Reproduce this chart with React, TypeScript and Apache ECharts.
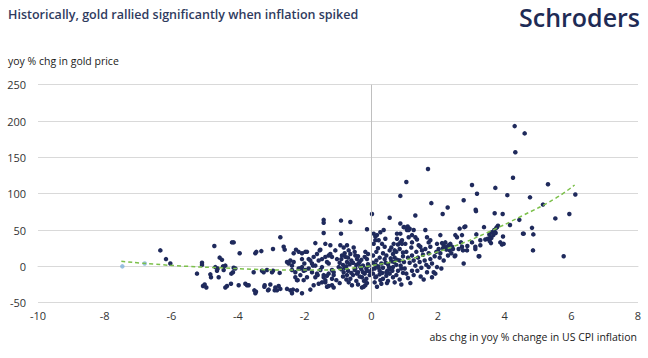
import React, { useEffect, useRef } from "react";
import * as echarts from "echarts";

const TITLE = "Historically, gold rallied significantly when inflation spiked";
const LOGO = "Schroders";
const Y_TITLE = "yoy % chg in gold price";
const X_TITLE = "abs chg in yoy % change in US CPI inflation";

const X_MIN = -10;
const X_MAX = 8;
const X_STEP = 2;
const Y_MIN = -50;
const Y_MAX = 250;
const Y_STEP = 50;

// scatter: [abs chg in yoy CPI inflation, yoy % chg in gold price]
const farLeft: number[][] = [
  [-6.33, 22], [-6.16, 10], [-6.03, 4], [-5.23, -10], [-5.08, 5], [-5.08, 2], [-5.05, -27], [-4.95, -29], [-5.0, -25],
];
const leftPts: number[][] = [
  [-4.83, -11], [-4.81, -15], [-4.58, -15], [-4.71, 28], [-4.63, -6], [-4.55, 12], [-4.48, 9], [-4.45, 0], [-4.43, -5],
  [-4.68, -1], [-4.61, -3], [-4.38, -29], [-4.33, -27], [-4.18, 33], [-4.13, 33], [-4.21, -24], [-4.13, -2], [-4.08, -3],
  [-4.15, -8], [-4.2, -10], [-4.38, 1], [-3.95, 18], [-3.98, -26], [-3.78, -24], [-3.73, -26], [-3.68, -26], [-3.53, -8],
  [-3.48, 18], [-3.45, 20], [-3.3, 21], [-3.51, -33], [-3.48, -37], [-3.46, -35], [-3.28, -6], [-3.23, -8], [-3.2, -26],
  [-3.21, -28], [-3.1, -33], [-3.08, -32], [-3.03, -25], [-3.13, -5],
];
const midLeftPts: number[][] = [
  [-2.98, -8], [-2.95, 24], [-2.95, -6], [-2.9, -33], [-2.88, -29], [-2.83, -33], [-2.78, -27], [-2.73, -31], [-2.73, 40],
  [-2.75, -9], [-2.63, 27], [-2.6, 23], [-2.53, 6], [-2.48, 4], [-2.43, 8], [-2.38, 1], [-2.33, 6], [-2.53, -31],
  [-2.43, -33], [-2.38, -37], [-2.35, -32], [-2.23, -33], [-2.33, 18], [-2.26, 23], [-2.18, 20], [-2.08, 18], [-1.98, 20],
  [-1.93, 20], [-2.38, -5], [-2.28, -8], [-2.18, -3], [-2.08, -1], [-1.98, -5], [-1.88, -3], [-2.28, -15], [-2.23, -19],
  [-2.13, -12], [-2.03, -19], [-1.93, -15], [-2.08, -37], [-2.21, -19], [-2.08, 10], [-2.01, 4], [-2.13, -3], [-2.03, -6],
];
const nearLeftPts: number[][] = [
  [-1.83, -32], [-1.83, 8], [-1.73, 13], [-1.63, 17], [-1.78, 4], [-1.68, 1], [-1.58, 8], [-1.48, 10], [-1.38, 13],
  [-1.33, 6], [-1.28, 15], [-1.18, 13], [-1.68, 32], [-1.43, 64], [-1.43, 60], [-1.43, 46], [-1.53, 23], [-1.38, 31],
  [-1.23, 29], [-1.78, -8], [-1.68, -15], [-1.63, -10], [-1.53, -5], [-1.43, -12], [-1.38, -19], [-1.28, -10],
  [-1.18, -17], [-1.13, -8], [-1.58, -24], [-1.48, -22], [-1.33, -28], [-1.18, -26], [-1.73, -26], [-1.88, 10],
  [-1.75, 1], [-1.61, -12], [-1.55, 22], [-1.48, -1], [-1.43, -15], [-1.38, -22], [-1.33, -13], [-1.28, 4], [-1.23, 17],
  [-1.28, -27], [-1.13, -29], [-1.18, -5], [-1.13, -12], [-1.05, -19], [-1.08, 22], [-1.03, 10],
];
const negCorePts: number[][] = [
  [-0.98, -1], [-0.91, 63], [-0.91, 45], [-0.93, 29], [-0.83, 26], [-0.73, 29], [-0.68, 22], [-0.88, 15], [-0.78, 13],
  [-0.73, 6], [-0.63, 17], [-0.83, -8], [-0.73, -12], [-0.63, -17], [-0.68, -22], [-0.58, -26], [-0.63, 61], [-0.53, 26],
  [-0.48, 15], [-0.43, 10], [-0.38, 4], [-0.48, -3], [-0.43, -10], [-0.33, -1], [-0.28, -15], [-0.28, -29], [-0.18, -26],
  [-0.13, 51], [-0.18, 20], [-0.13, 10], [-0.08, 1], [-0.13, -6], [-0.95, 5], [-0.9, -4], [-0.85, 2], [-0.8, -2],
  [-0.75, 0], [-0.7, -6], [-0.65, 3], [-0.6, -9], [-0.55, 5], [-0.5, -5], [-0.45, 2], [-0.4, -8], [-0.35, 6], [-0.3, -4],
  [-0.25, 1], [-0.2, -10], [-0.15, -3], [-0.1, 3], [-0.05, -7], [-0.9, 10], [-0.8, 18], [-0.7, 12], [-0.6, 8], [-0.5, 20],
  [-0.4, 14], [-0.3, 9], [-0.2, 13], [-0.1, 17], [-0.85, -14], [-0.75, -18], [-0.55, -12], [-0.45, -20], [-0.35, -14],
  [-0.25, -8], [-0.15, -17], [-0.05, -12], [-0.95, -23], [-0.4, -25], [-0.22, -20], [-0.23, -28], [-0.13, -23],
];
const posCorePts: number[][] = [
  [0.02, 72], [0.07, 45], [0.12, 36], [0.17, 43], [0.27, 47], [0.37, 50], [0.55, 67], [0.12, -15], [0.27, -19],
  [0.17, -28], [0.6, 26], [0.7, 22], [0.8, 30], [0.12, 41], [0.22, 36], [0.07, 31], [0.32, 31], [0.42, 38], [0.77, 45],
  [0.87, 33], [0.67, 31], [0.92, 31], [0.05, 5], [0.1, -3], [0.15, 8], [0.2, 0], [0.25, -6], [0.3, 4], [0.35, -2],
  [0.4, 10], [0.45, -8], [0.5, 3], [0.55, -4], [0.6, 7], [0.65, -1], [0.7, 12], [0.75, 2], [0.8, -6], [0.85, 8],
  [0.9, -3], [0.95, 14], [0.05, 15], [0.15, 20], [0.25, 12], [0.35, 18], [0.45, 15], [0.55, 22], [0.65, 17], [0.75, 20],
  [0.85, 24], [0.95, 19], [0.05, -10], [0.15, -14], [0.25, -11], [0.35, -17], [0.45, -13], [0.55, -10], [0.65, -15],
  [0.75, -12], [0.85, -18], [0.95, -9], [0.1, -22], [0.3, -24], [0.5, -20], [0.7, -22], [0.9, -25], [0.2, 25],
  [0.4, 27], [0.58, 11], [0.68, 6], [0.78, 9], [0.88, 1], [0.98, 6], [0.33, -9], [0.53, -1], [0.63, -6], [0.13, 2],
  [0.43, 5], [0.02, -4], [0.22, -2], [0.48, -6], [0.47, -23],
];
const rightPts: number[][] = [
  [0.87, 97], [1.05, 116], [1.7, 134], [1.8, 87], [1.32, 70], [0.87, 59], [0.97, 54], [1.07, 50], [1.12, 40],
  [0.87, 45], [0.92, 36], [1.02, 31], [0.77, 38], [1.09, 55], [1.15, 52], [0.99, 54], [1.12, 50], [1.22, 43],
  [1.37, 37], [1.22, 33], [1.27, 50], [1.32, 40], [1.42, 29], [1.47, 27], [1.52, 22], [1.22, 15], [1.27, 8], [1.32, 1],
  [1.22, -6], [1.27, -12], [1.17, -23], [1.62, 50], [1.67, 40], [1.72, 33], [1.77, 27], [1.62, 24], [1.72, 18],
  [1.77, 10], [1.82, 4], [1.72, -1], [1.67, -8], [1.97, -1], [1.87, -8], [1.82, -15], [1.92, -10], [1.77, 36],
  [1.05, 20], [1.1, 12], [1.15, 5], [1.0, -3], [1.05, -10], [1.1, -16], [1.2, 26], [1.35, 20], [1.4, 12], [1.45, 6],
  [1.5, -2], [1.55, 16], [1.6, 8], [1.38, -6], [1.48, -14], [1.57, -18], [1.65, 2], [1.9, 14], [1.95, 20],
];
const farRightPts: number[][] = [
  [2.07, 43], [2.12, 32], [2.17, 29], [2.22, 33], [2.27, 27], [2.32, 29], [2.37, 31], [2.42, 27], [1.97, 31],
  [2.02, 24], [2.07, 18], [2.17, 8], [2.29, 81], [2.14, 72], [2.77, 91], [2.52, 43], [2.57, 40], [2.69, 33], [2.72, 27],
  [2.87, 22], [2.5, 14], [2.77, 4], [2.65, 52], [2.72, 43], [2.79, 54], [2.82, 55], [2.62, 24], [2.75, 22], [2.52, 15],
  [2.15, 25], [2.25, 23], [2.35, 22], [2.45, 24], [2.05, 12], [2.1, -3], [2.4, 18], [2.3, 15], [2.88, 28],
  [3.02, 112], [3.17, 100], [3.13, 78], [3.14, 76], [3.38, 54], [3.15, 44], [3.27, 36], [3.12, 27], [3.22, 14],
  [3.59, 32], [3.87, 33], [3.92, 30], [3.02, 33], [3.27, 29], [3.97, 31], [3.12, 24], [3.24, 14], [3.42, 37],
  [3.49, 38], [3.57, 40], [3.95, 41], [3.54, 44], [3.62, 47], [3.69, 50], [3.72, 108], [3.7, 73], [3.94, 72],
  [3.8, 56], [3.77, 54], [3.75, 53], [3.66, 43], [3.73, 46], [3.6, 39], [3.55, 35],
  [4.3, 193], [4.6, 183], [4.32, 157], [4.25, 122], [4.08, 98], [4.76, 95], [4.44, 64], [4.16, 57], [4.82, 53],
  [4.55, 45], [4.86, 44], [4.57, 45], [4.85, 22], [5.15, 85], [5.3, 113], [5.52, 66], [5.94, 72], [6.12, 99], [5.77, 14],
];
const lightPts: number[][] = [[-7.47, 0], [-6.8, 4]];

// polynomial trend line
const trendX = [-7.5, -6.5, -5.5, -4.5, -3.5, -2.5, -1.5, -0.5, 0.5, 1.5, 2.5, 3.5, 4.5, 5.5, 6.1];
const trendY = [7, 3, 0, -2, -4, -5, -5, -2, 5, 14, 28, 47, 69, 93, 112];

const NAVY = "#1f2a5c";

export default function App() {
  const ref = useRef<HTMLDivElement>(null);
  useEffect(() => {
    const chart = echarts.init(ref.current!, null, { renderer: "svg" });
    const scatterData = [
      ...farLeft, ...leftPts, ...midLeftPts, ...nearLeftPts, ...negCorePts, ...posCorePts, ...rightPts, ...farRightPts,
    ];
    chart.setOption({
      animation: false,
      backgroundColor: "#ffffff",
      grid: { left: 38, right: 10, top: 84.7, bottom: 55.3, containLabel: false },
      xAxis: {
        type: "value",
        min: X_MIN,
        max: X_MAX,
        interval: X_STEP,
        axisLine: { show: true, lineStyle: { color: "#d9d9d9", width: 1 } },
        axisTick: { show: false },
        splitLine: { show: false },
        axisLabel: { color: "#333333", fontSize: 11, margin: 7, fontFamily: "Open Sans" },
      },
      yAxis: {
        type: "value",
        min: Y_MIN,
        max: Y_MAX,
        interval: Y_STEP,
        axisLine: { show: false },
        axisTick: { show: false },
        splitLine: { show: true, lineStyle: { color: "#d9d9d9", width: 1 } },
        axisLabel: { color: "#333333", fontSize: 11, margin: 12, fontFamily: "Open Sans", padding: [0, 0, 6, 0] },
      },
      series: [
        {
          type: "scatter",
          data: scatterData,
          symbolSize: 4.5,
          itemStyle: { color: NAVY, opacity: 1 },
          markLine: {
            silent: true,
            symbol: "none",
            label: { show: false },
            lineStyle: { color: "#bfbfbf", width: 1, type: "solid" },
            data: [{ xAxis: 0 }],
          },
          z: 2,
        },
        {
          type: "scatter",
          data: lightPts,
          symbolSize: 4.5,
          itemStyle: { color: "#7fb2d9" },
          z: 2,
        },
        {
          type: "line",
          data: trendX.map((x, i) => [x, trendY[i]]),
          smooth: true,
          showSymbol: false,
          lineStyle: { color: "#7cc04b", width: 1.5, type: [4, 3] },
          z: 3,
        },
      ],
      graphic: [
        {
          type: "text",
          left: 8,
          top: 8,
          style: {
            text: TITLE,
            fill: "#2f3b5e",
            font: "600 12.5px 'Open Sans', sans-serif",
          },
        },
        {
          type: "text",
          right: 8,
          top: 4,
          style: {
            text: LOGO,
            fill: "#1e2b55",
            font: "600 25px 'Open Sans', sans-serif",
          },
        },
        {
          type: "text",
          left: 8,
          top: 55,
          style: { text: Y_TITLE, fill: "#1a1a1a", font: "10.5px 'Open Sans', sans-serif" },
        },
        {
          type: "text",
          right: 11,
          top: 331,
          style: { text: X_TITLE, fill: "#1a1a1a", font: "10.5px 'Open Sans', sans-serif" },
        },
      ],
    });
    return () => chart.dispose();
  }, []);
  return (
    <div
      ref={ref}
      style={{ position: "fixed", left: 0, top: 0, width: 648, height: 358, background: "#fff" }}
    />
  );
}
